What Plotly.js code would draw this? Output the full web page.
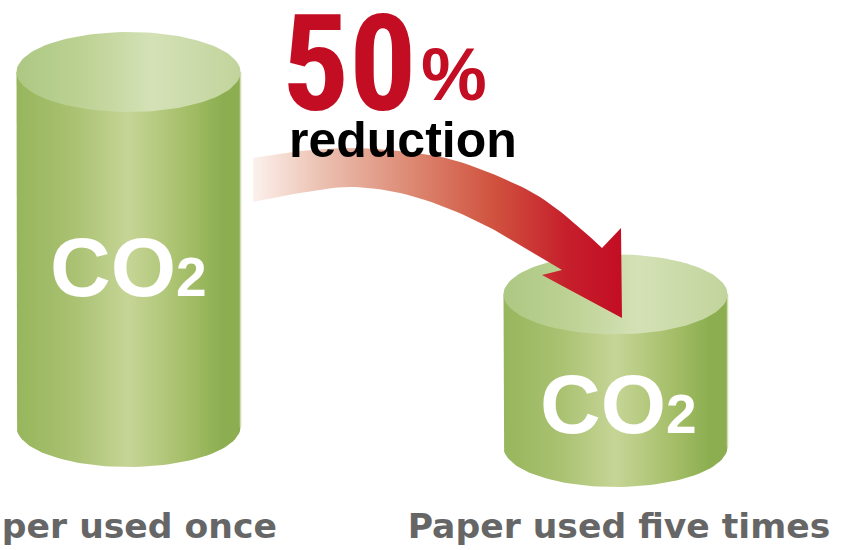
<!DOCTYPE html>
<html><head><meta charset="utf-8">
<script src="https://cdn.plot.ly/plotly-3.0.1.min.js"></script>
<style>html,body{margin:0;padding:0;background:#fff;overflow:hidden}#chart{width:842px;height:550px}</style>
</head><body><div id="chart"></div>
<script>
// ---------- data ----------
const categories = ['Paper used once', 'Paper used five times'];
const co2Values = [100, 43];
const cylinderLabel = 'CO';
const cylinderLabelSub = '2';
const reductionValue = '50';
const reductionUnit = '%';
const reductionWord = 'reduction';

// ---------- geometry / style ----------
const W = 842, H = 550, MB = 50, PH = H - MB;
const PX_PER_UNIT = 3.55;
const X_RANGE = [-0.2639, 1.4651];
const Y_RANGE = [-(PH - 427) / PX_PER_UNIT, 427 / PX_PER_UNIT];
const HALF_W = 0.23;
const RY = 40 / PX_PER_UNIT;
const BASE_DROP_PX = [0, 20];            // perspective offset of each cylinder base
const LABEL_SHIFT_PX = [-13, 3.5];       // horizontal nudge of each category label
const xd = px => X_RANGE[0] + px / W * (X_RANGE[1] - X_RANGE[0]);
const yd = py => Y_RANGE[1] - py / PH * (Y_RANGE[1] - Y_RANGE[0]);
const dxUnits = px => px / W * (X_RANGE[1] - X_RANGE[0]);

// pick a condensed face for the big number if one is installed
function fontAvailable(name) {
  const c = document.createElement('canvas').getContext('2d');
  const probe = '5050 mmmmwwii';
  c.font = 'bold 60px monospace'; const a = c.measureText(probe).width;
  c.font = 'bold 60px "' + name + '", monospace'; const b = c.measureText(probe).width;
  c.font = 'bold 60px serif'; const a2 = c.measureText(probe).width;
  c.font = 'bold 60px "' + name + '", serif'; const b2 = c.measureText(probe).width;
  return a !== b || a2 !== b2;
}
const NARROW_FONTS = ['Roboto Condensed', 'Liberation Sans Narrow', 'Arial Narrow', 'Nimbus Sans Narrow', 'Open Sans Condensed', 'Noto Sans Display Condensed'];
const narrow = NARROW_FONTS.find(fontAvailable);
const BIG_FONT = narrow ? {family: narrow, size: 133} : {family: 'Liberation Sans, Arial, sans-serif', size: 121};

const BODY_SCALE = [[0,'#97b65c'],[0.25,'#a9c171'],[0.5,'#c6d596'],[0.75,'#a6bf6a'],[0.92,'#8cae50'],[1,'#8cae50']];
const TOP_SCALE = [[0,'#adc883'],[0.3,'#bdd294'],[0.6,'#d4e1b6'],[1,'#c2d49c']];
const NOLINE = {color:'rgba(0,0,0,0)', width:0};

const traces = [];
categories.forEach((c, i) => {
  const base = -BASE_DROP_PX[i] / PX_PER_UNIT;
  const top = base + co2Values[i];
  const bx = [i - HALF_W, i - HALF_W], by = [top, base];
  for (let k = 0; k <= 60; k++) {
    const t = Math.PI + Math.PI * k / 60;
    bx.push(i + HALF_W * Math.cos(t)); by.push(base + RY * Math.sin(t));
  }
  bx.push(i + HALF_W); by.push(top);
  traces.push({type:'scatter', mode:'lines', x:bx, y:by, fill:'toself', line:NOLINE,
    fillgradient:{type:'horizontal', colorscale:BODY_SCALE}, hoverinfo:'skip', showlegend:false});
  traces.push({type:'scatter', mode:'lines', x:[i + HALF_W, i + HALF_W], y:[top, base],
    line:{color:'#cfdcb0', width:1.5}, hoverinfo:'skip', showlegend:false});
  const tx = [], ty = [];
  for (let k = 0; k <= 120; k++) {
    const t = 2 * Math.PI * k / 120;
    tx.push(i + HALF_W * Math.cos(t)); ty.push(top + RY * Math.sin(t));
  }
  traces.push({type:'scatter', mode:'lines', x:tx, y:ty, fill:'toself', line:NOLINE,
    fillgradient:{type:'horizontal', colorscale:TOP_SCALE}, hoverinfo:'skip', showlegend:false});
});

// ---------- curved reduction arrow (decoration, pixel space) ----------
function catmull(pts, steps) {
  const out = [];
  for (let i = 0; i < pts.length - 1; i++) {
    const p0 = pts[Math.max(i - 1, 0)], p1 = pts[i], p2 = pts[i + 1], p3 = pts[Math.min(i + 2, pts.length - 1)];
    for (let s = 0; s < steps; s++) {
      const t = s / steps, t2 = t * t, t3 = t2 * t;
      const f = (a, b, c, d) => 0.5 * (2 * b + (-a + c) * t + (2 * a - 5 * b + 4 * c - d) * t2 + (-a + 3 * b - 3 * c + d) * t3);
      out.push([f(p0[0], p1[0], p2[0], p3[0]), f(p0[1], p1[1], p2[1], p3[1])]);
    }
  }
  out.push(pts[pts.length - 1]);
  return out;
}
const ARROW_UPPER = [[253,158],[300,151],[350,148],[400,151],[450,159],[500,177],[540,197],[573,222],[602,248]];
const ARROW_HEAD = [[621,228],[622,318],[542,275]];
const ARROW_LOWER = [[562,270],[535,254],[500,233],[450,209],[400,193],[350,187],[300,193],[253,202]];
const arrowPts = [...catmull(ARROW_UPPER, 8), ...ARROW_HEAD, ...catmull(ARROW_LOWER, 8)];
arrowPts.push(arrowPts[0]);
traces.push({type:'scatter', mode:'lines', x:arrowPts.map(p => xd(p[0])), y:arrowPts.map(p => yd(p[1])),
  fill:'toself', line:NOLINE, hoverinfo:'skip', showlegend:false,
  fillgradient:{type:'horizontal', colorscale:[[0,'#fcf1ec'],[0.18,'#ecc2b3'],[0.42,'#dd8b75'],[0.65,'#d0533f'],[0.85,'#c61f2c'],[1,'#c30d23']]}});

// ---------- text ----------
const annotations = [
  {xref:'x', yref:'y', x:xd(280), y:yd(narrow ? 64.5 : 66), xanchor:'left', yanchor:'middle', showarrow:false,
   text:reductionValue,
   font:{family:BIG_FONT.family, size:BIG_FONT.size, weight:700, color:'#c30d23'}},
  {xref:'x', yref:'y', x:xd(419), y:yd(74), xanchor:'left', yanchor:'middle', showarrow:false,
   text:reductionUnit, font:{family:'Liberation Sans, Arial, sans-serif', size:74, weight:700, color:'#c30d23'}},
  {xref:'x', yref:'y', x:xd(403), y:yd(140), xanchor:'center', yanchor:'middle', showarrow:false,
   text:reductionWord, font:{family:'Liberation Sans, Arial, sans-serif', size:50, weight:700, color:'#000'}},
];
const CO2_PX = [[128, 267], [618, 404]];
categories.forEach((c, i) => {
  annotations.push({xref:'x', yref:'y', x:xd(CO2_PX[i][0]), y:yd(CO2_PX[i][1]), xanchor:'center', yanchor:'middle', showarrow:false,
    text:cylinderLabel + '<span style="font-size:55px">' + cylinderLabelSub + '</span>',
    font:{family:'Liberation Sans, Arial, sans-serif', size:84, weight:700, color:'#ffffff'}});
});

const layout = {
  width:W, height:H, margin:{l:0, r:0, t:0, b:MB, pad:0},
  paper_bgcolor:'#ffffff', plot_bgcolor:'rgba(0,0,0,0)', showlegend:false,
  xaxis:{range:X_RANGE, tickmode:'array', tickvals:categories.map((c, i) => i + dxUnits(LABEL_SHIFT_PX[i])), ticktext:categories,
    tickangle:0, ticks:'', showgrid:false, zeroline:false, showline:false, fixedrange:true,
    ticklabeloverflow:'allow', ticklabelstandoff:2,
    tickfont:{family:'DejaVu Sans, sans-serif', size:34.6, weight:700, color:'#666666'}},
  yaxis:{range:Y_RANGE, visible:false, fixedrange:true},
  annotations
};
Plotly.newPlot('chart', traces, layout, {displayModeBar:false, staticPlot:true});
</script>
</body></html>
